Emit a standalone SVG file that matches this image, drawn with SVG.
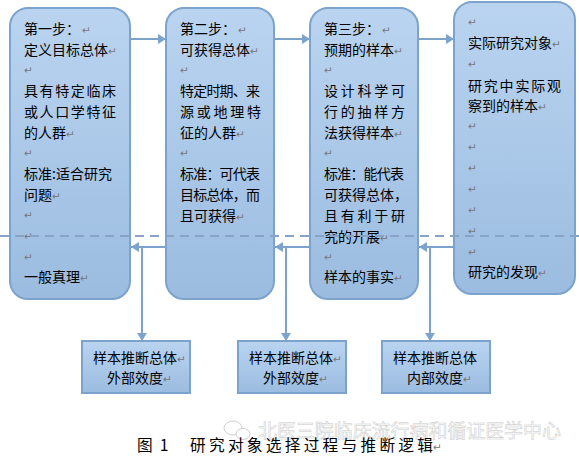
<svg xmlns="http://www.w3.org/2000/svg" width="579" height="461" viewBox="0 0 579 461">
<style>
.box{fill:url(#g);stroke:#7ba3cb;stroke-width:2}
.t{font-family:"Noto Sans CJK SC","Liberation Sans",sans-serif;font-size:14px;fill:#000}
.r{font-family:"DejaVu Sans",sans-serif;font-size:10.5px;fill:#777}
.c{stroke:#7ba3cb;stroke-width:2;fill:none}
.d{stroke:#87a3c6;stroke-width:2;stroke-dasharray:9 6;fill:none}
.w{font-family:"Noto Sans CJK SC",sans-serif;font-size:19px;fill:#fff;stroke:#c8c8c8;stroke-width:.5}
.cap{font-family:"Noto Sans CJK SC",sans-serif;font-size:15.7px;font-weight:400;fill:#000}
</style>
<defs>
<linearGradient id="g" x1="0" y1="0" x2="0" y2="1"><stop offset="0" stop-color="#bad4f0"/><stop offset="1" stop-color="#9bbce0"/></linearGradient>
<marker id="a" markerUnits="userSpaceOnUse" markerWidth="9" markerHeight="10" refX="8" refY="5" orient="auto"><path d="M0 0L8 5L0 10Z" fill="#7ba3cb"/></marker>
</defs>
<rect width="579" height="461" fill="#fff"/>
<g id="connectors">
<path class="c" marker-end="url(#a)" d="M131 39H166"/>
<path class="c" marker-end="url(#a)" d="M275 39H310"/>
<path class="c" marker-end="url(#a)" d="M419 39H454"/>
<path class="c" marker-end="url(#a)" d="M166 247H131"/>
<path class="c" marker-end="url(#a)" d="M310 247H275"/>
<path class="c" marker-end="url(#a)" d="M454 247H419"/>
<path class="c" marker-end="url(#a)" d="M142 247V341"/>
<path class="c" marker-end="url(#a)" d="M286 247V341"/>
<path class="c" marker-end="url(#a)" d="M430 247V341"/>
</g>
<g id="node1">
<rect class="box" x="10" y="8" width="120" height="291" rx="18"/>
<text class="t" x="24" y="34">第一步：<tspan class="r" dx="2">↵</tspan></text>
<text class="t" x="24" y="55">定义目标总体<tspan class="r">↵</tspan></text>
<text class="r" x="24" y="74">↵</text>
<text class="t" x="24" y="96" textLength="92">具有特定临床</text>
<text class="t" x="24" y="117" textLength="92">或人口学特征</text>
<text class="t" x="24" y="138">的人群<tspan class="r">↵</tspan></text>
<text class="r" x="24" y="157">↵</text>
<text class="t" x="24" y="179">标准:适合研究</text>
<text class="t" x="24" y="200">问题<tspan class="r">↵</tspan></text>
<text class="r" x="24" y="219">↵</text>
<text class="r" x="24" y="240">↵</text>
<text class="r" x="24" y="261">↵</text>
<text class="t" x="24" y="282">一般真理<tspan class="r">↵</tspan></text>
</g>
<g id="node2">
<rect class="box" x="166" y="8" width="108" height="291" rx="18"/>
<text class="t" x="180" y="34">第二步：<tspan class="r" dx="2">↵</tspan></text>
<text class="t" x="180" y="55">可获得总体<tspan class="r">↵</tspan></text>
<text class="r" x="180" y="74">↵</text>
<text class="t" x="180" y="96" textLength="80">特定时期、来</text>
<text class="t" x="180" y="117" textLength="81">源或地理特</text>
<text class="t" x="180" y="138">征的人群<tspan class="r">↵</tspan></text>
<text class="r" x="180" y="157">↵</text>
<text class="t" x="180" y="179" textLength="80">标准：可代表</text>
<text class="t" x="180" y="200" textLength="80">目标总体，而</text>
<text class="t" x="180" y="221">且可获得<tspan class="r">↵</tspan></text>
</g>
<g id="node3">
<rect class="box" x="310" y="8" width="108" height="291" rx="18"/>
<text class="t" x="324" y="34">第三步：<tspan class="r" dx="2">↵</tspan></text>
<text class="t" x="324" y="55">预期的样本<tspan class="r">↵</tspan></text>
<text class="r" x="324" y="74">↵</text>
<text class="t" x="324" y="96" textLength="81">设计科学可</text>
<text class="t" x="324" y="117" textLength="81">行的抽样方</text>
<text class="t" x="324" y="138">法获得样本<tspan class="r">↵</tspan></text>
<text class="r" x="324" y="157">↵</text>
<text class="t" x="324" y="179" textLength="80">标准：能代表</text>
<text class="t" x="324" y="200">可获得总体，</text>
<text class="t" x="324" y="221" textLength="81">且有利于研</text>
<text class="t" x="324" y="242">究的开展<tspan class="r">↵</tspan></text>
<text class="r" x="324" y="261">↵</text>
<text class="t" x="324" y="282">样本的事实<tspan class="r">↵</tspan></text>
</g>
<g id="node4">
<rect class="box" x="454" y="2" width="121" height="292" rx="18"/>
<text class="r" x="468" y="26">↵</text>
<text class="t" x="468" y="48">实际研究对象<tspan class="r">↵</tspan></text>
<text class="r" x="468" y="68">↵</text>
<text class="t" x="468" y="91" textLength="93">研究中实际观</text>
<text class="t" x="468" y="111">察到的样本<tspan class="r">↵</tspan></text>
<text class="r" x="468" y="130">↵</text>
<text class="r" x="468" y="151">↵</text>
<text class="r" x="468" y="172">↵</text>
<text class="r" x="468" y="193">↵</text>
<text class="r" x="468" y="214">↵</text>
<text class="r" x="468" y="235">↵</text>
<text class="r" x="468" y="256">↵</text>
<text class="t" x="468" y="277">研究的发现<tspan class="r">↵</tspan></text>
</g>
<path id="divider" class="d" d="M0 236H579"/>
<g id="node5">
<rect class="box" x="82" y="341" width="108" height="52"/>
<text class="t" x="93" y="363">样本推断总体<tspan class="r">↵</tspan></text>
<text class="t" x="107" y="383">外部效度<tspan class="r">↵</tspan></text>
</g>
<g id="node6">
<rect class="box" x="238" y="341" width="108" height="52"/>
<text class="t" x="249" y="363">样本推断总体<tspan class="r">↵</tspan></text>
<text class="t" x="263" y="383">外部效度<tspan class="r">↵</tspan></text>
</g>
<g id="node7">
<rect class="box" x="382" y="341" width="108" height="52"/>
<text class="t" x="393" y="363">样本推断总体</text>
<text class="t" x="407" y="383">内部效度<tspan class="r">↵</tspan></text>
</g>
<g id="watermark" fill="#fff" stroke="#cfcfcf" stroke-width="1">
<ellipse cx="233" cy="428" rx="9" ry="7"/>
<ellipse cx="243" cy="434" rx="7" ry="5.5"/>
</g>
<text class="w" x="258" y="438" textLength="303">北医三院临床流行病和循证医学中心</text>
<text class="cap" x="137" y="451">图<tspan dx="7">1</tspan></text>
<text class="cap" x="190" y="451" textLength="243">研究对象选择过程与推断逻辑</text>
<text class="r" x="433" y="451">↵</text>
</svg>
